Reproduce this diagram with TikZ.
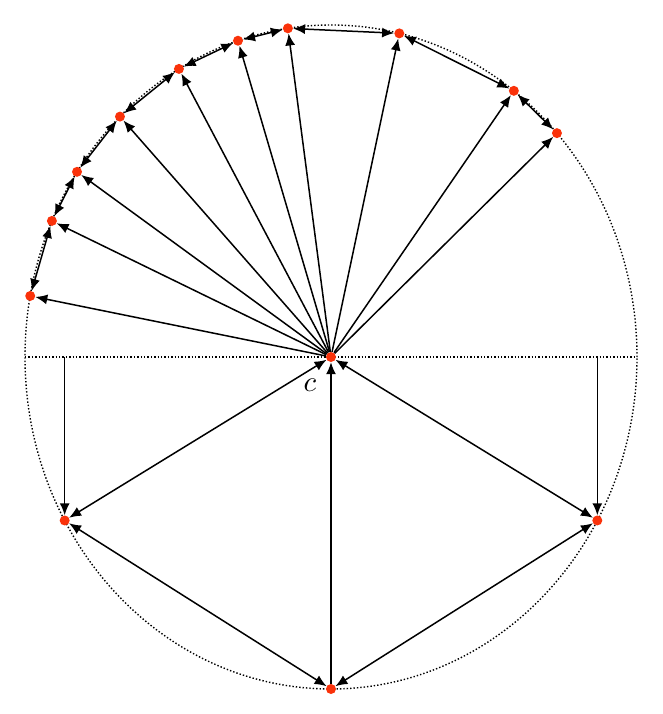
\documentclass[tikz,border=0pt]{standalone}
\usepackage{amsmath}
\usepackage{xcolor}
\usetikzlibrary{arrows.meta}
\definecolor{dotred}{RGB}{250,50,10}

\begin{document}
\begin{tikzpicture}[x=1pt,y=1pt,
  pt/.style={circle,fill=dotred,inner sep=0pt,minimum size=10pt},
  edge/.style={line width=1.5pt,-{Latex[length=12pt,width=10pt]}},
  dedge/.style={line width=1.5pt,{Latex[length=12pt,width=10pt]}-{Latex[length=12pt,width=10pt]}},
  guide/.style={dotted,line width=1.4pt}]
  \useasboundingbox (-331,-357) rectangle (332,357);

  % Dotted circle and diameter
  \draw[guide] (0,0) ellipse [x radius=306, y radius=332];
  \draw[guide] (-306,0) -- (306,0);

  % Centre point c
  \node[pt] (c) at (0,0) {};
  \node[scale=2.9] (clabel) at (-21,-28) {$c$};

  % Points on the upper arc
  \foreach \a [count=\i] in {169.4,155.8,146.1,133.6,119.8,107.7,98.1,77.1,53.3,42.4} {
    \node[pt] (p\i) at (\a:306 and 332) {};
  }

  % Points on the lower arc
  \node[pt] (bl) at (209.5:306 and 332) {};
  \node[pt] (b) at (270:306 and 332) {};
  \node[pt] (br) at (330.5:306 and 332) {};

  % Rays from c to the upper points
  \foreach \i in {1,...,10} {
    \draw[edge] (c) -- (p\i);
  }

  % Chords between neighbours
  \foreach \i in {1,...,9} {
    \pgfmathtruncatemacro\j{\i+1}
    \draw[dedge] (p\i) -- (p\j);
  }

  % Drops from the diameter
  \coordinate (bltop) at (bl |- c);
  \coordinate (brtop) at (br |- c);
  \draw[edge] (bltop) -- (bl);
  \draw[edge] (brtop) -- (br);

  % Lower triangle
  \draw[dedge] (c) -- (bl);
  \draw[dedge] (c) -- (br);
  \draw[dedge] (bl) -- (b);
  \draw[dedge] (b) -- (br);
  \draw[edge] (b) -- (c);
\end{tikzpicture}
\end{document}
